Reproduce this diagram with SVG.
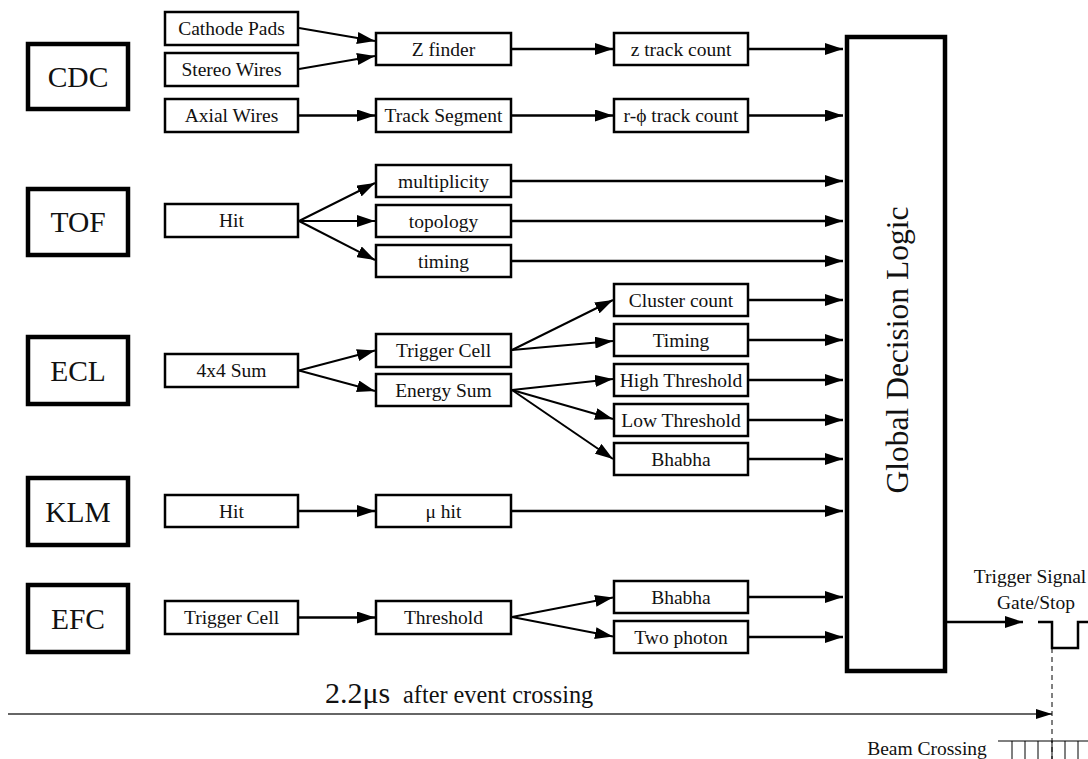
<svg xmlns="http://www.w3.org/2000/svg" width="1088" height="759" viewBox="0 0 1088 759">
<style>
text{font-family:"Liberation Serif","DejaVu Serif",serif;fill:#111;text-anchor:middle}
.t{font-size:19.5px}
.det rect{fill:#fff;stroke:#000;stroke-width:4.5}
.box rect{fill:#fff;stroke:#000;stroke-width:2.5}
.det text{font-size:29.5px}
.c line{stroke:#000;stroke-width:2.5;marker-end:url(#ah)}
.c line.d{stroke-width:2}
</style>
<defs>
<marker id="ah" markerUnits="userSpaceOnUse" markerWidth="18" markerHeight="12" refX="18" refY="6" orient="auto"><path d="M0,0 L18,6 L0,12 z" fill="#000"/></marker>
<marker id="ah2" markerUnits="userSpaceOnUse" markerWidth="16" markerHeight="10" refX="16" refY="5" orient="auto"><path d="M0,0 L16,5 L0,10 z" fill="#000"/></marker>
</defs>
<rect width="1088" height="759" fill="#fff"/>

<g id="CDC" class="det"><rect x="28" y="44" width="100" height="65"/><text x="78" y="87">CDC</text></g>
<g id="TOF" class="det"><rect x="28" y="189" width="100" height="66"/><text x="78" y="232">TOF</text></g>
<g id="ECL" class="det"><rect x="28" y="337" width="100" height="67"/><text x="78" y="381">ECL</text></g>
<g id="KLM" class="det"><rect x="28" y="478" width="100" height="67"/><text x="78" y="522">KLM</text></g>
<g id="EFC" class="det"><rect x="28" y="585" width="100" height="67"/><text x="78" y="629">EFC</text></g>

<g id="cathode" class="box"><rect x="165" y="12" width="133" height="33"/><text class="t" x="231.5" y="35">Cathode Pads</text></g>
<g id="stereo" class="box"><rect x="165" y="53" width="133" height="33"/><text class="t" x="231.5" y="76">Stereo Wires</text></g>
<g id="axial" class="box"><rect x="165" y="99" width="133" height="33"/><text class="t" x="231.5" y="122">Axial Wires</text></g>
<g id="zfinder" class="box"><rect x="376" y="33" width="135" height="32"/><text class="t" x="443.5" y="55.5">Z finder</text></g>
<g id="trackseg" class="box"><rect x="376" y="99" width="135" height="33"/><text class="t" x="443.5" y="122">Track Segment</text></g>
<g id="ztrack" class="box"><rect x="614" y="33" width="134" height="32"/><text class="t" x="681" y="55.5">z track count</text></g>
<g id="rphi" class="box"><rect x="614" y="99" width="134" height="33"/><text class="t" x="681" y="122">r-ϕ track count</text></g>

<g id="tofhit" class="box"><rect x="165" y="204" width="133" height="33"/><text class="t" x="231.5" y="227">Hit</text></g>
<g id="mult" class="box"><rect x="376" y="165" width="135" height="32"/><text class="t" x="443.5" y="187.5">multiplicity</text></g>
<g id="topo" class="box"><rect x="376" y="205" width="135" height="32"/><text class="t" x="443.5" y="227.5">topology</text></g>
<g id="timing" class="box"><rect x="376" y="245" width="135" height="32"/><text class="t" x="443.5" y="267.5">timing</text></g>

<g id="sum44" class="box"><rect x="165" y="354" width="133" height="33"/><text class="t" x="231.5" y="377">4x4 Sum</text></g>
<g id="trigcell" class="box"><rect x="376" y="334" width="135" height="33"/><text class="t" x="443.5" y="357">Trigger Cell</text></g>
<g id="esum" class="box"><rect x="376" y="374" width="135" height="32"/><text class="t" x="443.5" y="396.5">Energy Sum</text></g>
<g id="cluster" class="box"><rect x="614" y="284" width="134" height="32"/><text class="t" x="681" y="306.5">Cluster count</text></g>
<g id="eTiming" class="box"><rect x="614" y="324" width="134" height="32"/><text class="t" x="681" y="346.5">Timing</text></g>
<g id="highthr" class="box"><rect x="614" y="364" width="134" height="32"/><text class="t" x="681" y="386.5">High Threshold</text></g>
<g id="lowthr" class="box"><rect x="614" y="404" width="134" height="32"/><text class="t" x="681" y="426.5">Low Threshold</text></g>
<g id="ebhabha" class="box"><rect x="614" y="443" width="134" height="32"/><text class="t" x="681" y="465.5">Bhabha</text></g>

<g id="klmhit" class="box"><rect x="165" y="495" width="133" height="32"/><text class="t" x="231.5" y="517.5">Hit</text></g>
<g id="muhit" class="box"><rect x="376" y="495" width="135" height="32"/><text class="t" x="443.5" y="517.5">μ hit</text></g>

<g id="efctrig" class="box"><rect x="165" y="601" width="133" height="33"/><text class="t" x="231.5" y="624">Trigger Cell</text></g>
<g id="thresh" class="box"><rect x="376" y="601" width="135" height="33"/><text class="t" x="443.5" y="624">Threshold</text></g>
<g id="fbhabha" class="box"><rect x="614" y="581" width="134" height="32"/><text class="t" x="681" y="603.5">Bhabha</text></g>
<g id="twophoton" class="box"><rect x="614" y="621" width="134" height="32"/><text class="t" x="681" y="643.5">Two photon</text></g>

<g id="gdl"><rect x="847" y="37" width="98" height="634" fill="#fff" stroke="#000" stroke-width="4.5"/><text x="897" y="350" font-size="31.5" transform="rotate(-90 897 350)" dy="11">Global Decision Logic</text></g>

<g id="connectors" class="c">
<line class="d" x1="299" y1="28" x2="375" y2="41"/>
<line class="d" x1="299" y1="69" x2="375" y2="56"/>
<line x1="299" y1="115.5" x2="375" y2="115.5"/>
<line x1="511" y1="49" x2="613" y2="49"/>
<line x1="511" y1="115.5" x2="613" y2="115.5"/>
<line x1="748" y1="49" x2="843" y2="49"/>
<line x1="748" y1="115.5" x2="843" y2="115.5"/>

<line class="d" x1="299" y1="221" x2="375" y2="183"/>
<line class="d" x1="299" y1="221" x2="375" y2="221"/>
<line class="d" x1="299" y1="221" x2="375" y2="260"/>
<line x1="511" y1="181" x2="843" y2="181"/>
<line x1="511" y1="221" x2="843" y2="221"/>
<line x1="511" y1="261" x2="843" y2="261"/>

<line class="d" x1="299" y1="370.5" x2="375" y2="350.5"/>
<line class="d" x1="299" y1="370.5" x2="375" y2="391"/>
<line class="d" x1="512" y1="350" x2="613" y2="300"/>
<line class="d" x1="512" y1="350" x2="613" y2="341"/>
<line class="d" x1="512" y1="390" x2="613" y2="379"/>
<line class="d" x1="512" y1="390" x2="613" y2="419"/>
<line class="d" x1="512" y1="390" x2="613" y2="459"/>
<line x1="748" y1="300" x2="843" y2="300"/>
<line x1="748" y1="340" x2="843" y2="340"/>
<line x1="748" y1="380" x2="843" y2="380"/>
<line x1="748" y1="420" x2="843" y2="420"/>
<line x1="748" y1="459" x2="843" y2="459"/>

<line x1="299" y1="511" x2="375" y2="511"/>
<line x1="511" y1="511" x2="843" y2="511"/>

<line x1="299" y1="617.5" x2="375" y2="617.5"/>
<line class="d" x1="512" y1="617" x2="613" y2="597.5"/>
<line class="d" x1="512" y1="617" x2="613" y2="636.5"/>
<line x1="748" y1="597" x2="843" y2="597"/>
<line x1="748" y1="637" x2="843" y2="637"/>

<line x1="947" y1="622" x2="1023" y2="622"/>
<line x1="8" y1="714" x2="1052" y2="714" style="stroke:#333;stroke-width:1.4;marker-end:url(#ah2)"/>
</g>

<g id="signal">
<text class="t" x="1030" y="583">Trigger Signal</text>
<text class="t" x="1036" y="609">Gate/Stop</text>
<path d="M1038,622 H1052 V648 H1078 V622 H1090" fill="none" stroke="#000" stroke-width="2.5"/>
<line x1="1052" y1="648" x2="1052" y2="759" stroke="#000" stroke-width="1" stroke-dasharray="5,4"/>
</g>

<g id="timeline">
<text x="325" y="703" font-size="30" style="text-anchor:start">2.2μs</text>
<text x="403" y="703" font-size="24.3" style="text-anchor:start">after event crossing</text>
<text class="t" x="927" y="755">Beam Crossing</text>
<path d="M998,741 H1088 M1012,741 V760 M1025,741 V760 M1038,741 V760 M1052,741 V760 M1065,741 V760 M1078,741 V760" fill="none" stroke="#000" stroke-width="1"/>
</g>
</svg>
